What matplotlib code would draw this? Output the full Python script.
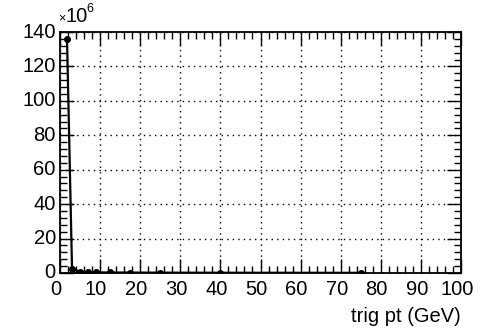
import numpy as np
import matplotlib.pyplot as plt
import matplotlib.transforms as mtransforms
from matplotlib.ticker import MultipleLocator

plt.rcParams['font.family'] = ['Liberation Sans', 'DejaVu Sans']

# Bin centres of the trigger pt spectrum and counts (in units of 1e6)
trig_pt = [1.75, 3, 5, 7, 9, 12.5, 17.5, 25, 40, 75]
counts = [136.0, 2.3, 0.8, 0.5, 0.35, 0.3, 0.25, 0.2, 0.15, 0.1]

fig = plt.figure(figsize=(4.86, 3.28), dpi=100)
ax = fig.add_axes([60 / 486, 1 - 273 / 328, 401 / 486, 241 / 328])

ax.plot(trig_pt, counts, color='black', lw=1.6, marker='o', ms=4)

ax.set_xlim(0, 100)
ax.set_ylim(0, 140)
ax.xaxis.set_major_locator(MultipleLocator(10))
ax.xaxis.set_minor_locator(MultipleLocator(2))
ax.yaxis.set_major_locator(MultipleLocator(20))
ax.yaxis.set_minor_locator(MultipleLocator(4))

# ROOT-like frame: inward ticks on all four sides, dotted grid
ax.tick_params(which='both', direction='in', top=True, right=True,
               labelsize=14.5, width=1.0)
ax.tick_params(axis='y', pad=3)
ax.tick_params(axis='x', pad=5)
ax.tick_params(which='major', length=10)
ax.tick_params(which='minor', length=5)
for s in ax.spines.values():
    s.set_linewidth(1.3)
ax.grid(True, which='major', color='black', ls=(0, (1, 3)), lw=1.0)

# nudge tick labels a little (x labels left, y labels up)
fig.canvas.draw()
dx = mtransforms.ScaledTranslation(-4 / 100, 0, fig.dpi_scale_trans)
dy = mtransforms.ScaledTranslation(0, 2 / 100, fig.dpi_scale_trans)
for lab in ax.get_xticklabels():
    lab.set_transform(lab.get_transform() + dx)
for lab in ax.get_yticklabels():
    lab.set_transform(lab.get_transform() + dy)

ax.set_xlabel('trig pt (GeV)', fontsize=14.5, loc='right', labelpad=6)

# exponent label above the y axis
fig.text(58 / 486, 1 - 21 / 328, '×', fontsize=9, ha='left', va='baseline')
fig.text(65 / 486, 1 - 22 / 328, '10', fontsize=14.5, ha='left', va='baseline')
fig.text(86 / 486, 1 - 12 / 328, '6', fontsize=9, ha='left', va='baseline')

fig.savefig('out.png', dpi=100)
